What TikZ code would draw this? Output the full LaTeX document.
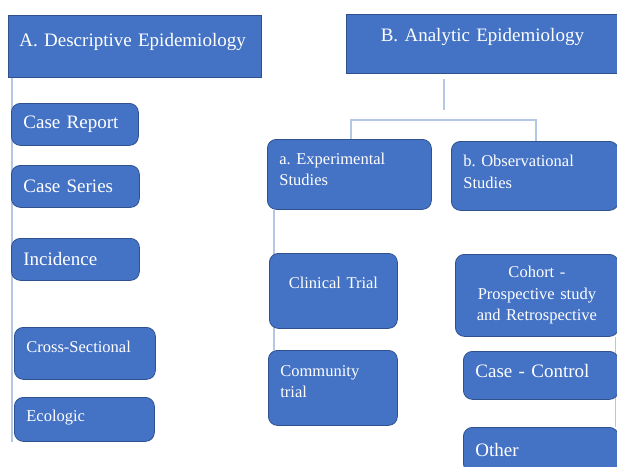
\documentclass[tikz,border=0pt]{standalone}
\usepackage{fontspec}
\setmainfont{Liberation Serif}
\usepackage{xcolor}
\usetikzlibrary{backgrounds}
\definecolor{boxblue}{HTML}{4472C4}
\definecolor{boxedge}{HTML}{2F528F}
\definecolor{linkblue}{HTML}{B4C7E7}
\newcommand{\headfont}{\fontsize{19}{23}\selectfont}
\newcommand{\itemfont}{\fontsize{16.5}{21.5}\selectfont}
\frenchspacing

\begin{document}
\begin{tikzpicture}[x=1pt,y=-1pt,
  head/.style={draw=boxedge,fill=boxblue,text=white,anchor=north west,inner xsep=12pt,inner ysep=0pt,align=left,font=\headfont,line width=0.8pt},
  box/.style={head,rounded corners=9pt,font=\itemfont},
  link/.style={draw=linkblue,line width=1.3pt},
  lift/.style={text depth=#1}]
\useasboundingbox (0,0) rectangle (617,466);

\node [head,text width=231pt,inner xsep=11pt,minimum height=62pt,lift=12pt] (descr) at (8,15) {A. Descriptive Epidemiology};
\node [head,text width=248pt,align=center,minimum height=59pt,lift=17pt] (analytic) at (346,14) {B. Analytic Epidemiology};

% descriptive column
\node [box,font=\headfont,text width=103pt,minimum height=42pt] (caserep) at (11,103) {Case Report};
\node [box,font=\headfont,text width=104pt,minimum height=42pt] (caseser) at (11,165) {Case Series};
\node [box,font=\headfont,text width=104pt,minimum height=42pt] (incid) at (11,238) {Incidence};
\node [box,text width=117pt,minimum height=52pt,lift=14pt] (cross) at (14,327) {Cross-Sectional};
\node [box,text width=116pt,minimum height=44pt,lift=8pt] (ecol) at (14,397) {Ecologic};

% analytic branches
\node [box,text width=140pt,minimum height=70pt,lift=32pt] (expt) at (267,139) {a. Experimental\\Studies};
\node [box,text width=143pt,minimum height=69pt,lift=30pt] (obs) at (451,141) {b. Observational\\Studies};
\node [box,text width=104pt,align=center,minimum height=75pt,lift=16pt] (clin) at (269,253) {Clinical Trial};
\node [box,text width=105pt,minimum height=75pt,lift=34pt] (comm) at (268,350) {Community\\trial};
\node [box,text width=139pt,align=center,minimum height=82pt] (cohort) at (455,254) {Cohort -\\Prospective study\\and Retrospective};
\node [box,font=\headfont,text width=131pt,minimum height=48pt,lift=10pt] (casectl) at (463,351) {Case - Control};
\node [box,font=\headfont,text width=131pt,minimum height=45pt] (other) at (463,427) {Other};

\coordinate (lx) at (12,0);
\coordinate (ex) at (274,0);
\coordinate (rx) at (615.5,0);
\coordinate (bstem) at (444,110);
\coordinate (bl) at (351,120);
\coordinate (br) at (536,120);

\begin{scope}[on background layer]
\draw [link] (descr.south -| lx) -- (ecol.south -| lx);
\draw [link,shorten <=5pt] (analytic.south -| bstem) -- (bstem);
\draw [link] (expt.north -| bl) -- (bl) -- (br) -- (obs.north -| br);
\draw [link] (expt.south -| ex) -- (comm.north -| ex);
\draw [link] (cohort.south -| rx) -- (other.north -| rx);
\end{scope}
\end{tikzpicture}
\end{document}
